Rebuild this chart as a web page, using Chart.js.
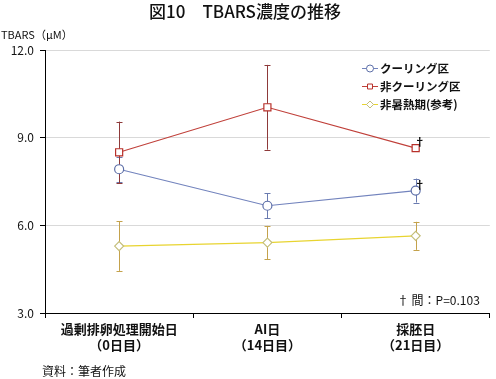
<!DOCTYPE html>
<html><head><meta charset="utf-8">
<script src="https://cdn.jsdelivr.net/npm/chart.js@4/dist/chart.umd.min.js"></script>
<style>html,body{margin:0;padding:0;background:#fff}#w{width:496px;height:379px}</style>
</head><body><div id="w"><canvas id="c"></canvas></div>
<script>
const categories = [["過剰排卵処理開始日","（0日目）"],["AI日","（14日目）"],["採胚日","（21日目）"]];
const seriesNames = ["クーリング区","非クーリング区","非暑熱期(参考)"];
const cooling = [7.92, 6.67, 7.19];
const coolingErr = [0.43, 0.43, 0.41];
const nonCooling = [8.50, 10.04, 8.64];
const nonCoolingErr = [1.05, 1.45, 0];
const nonHeat = [5.29, 5.41, 5.64];
const nonHeatErr = [0.85, 0.57, 0.48];
const yTicks = [3, 6, 9, 12];
const titleText = "図10　TBARS濃度の推移";
const yTitle = "TBARS（μM）";
const noteText = "† 間：P=0.103";
const sourceText = "資料：筆者作成";
const daggerSeries = [0, 1];
const daggerIndex = 2;

const JP = '"Noto Sans CJK JP","Noto Sans",sans-serif';
const styles = [
  {line:'#7283bd', pt:'#5d6fa8', err:'#6a7bb0', ps:'circle', r:4.5},
  {line:'#c0403a', pt:'#b8302a', err:'#8e3a3a', ps:'rect', r:5},
  {line:'#e8d430', pt:'#c4be7a', err:'#c4a24c', ps:'rectRot', r:4.5}
];
const errs = [coolingErr, nonCoolingErr, nonHeatErr];

const errPlugin = {
  id:'err',
  beforeDatasetsDraw(chart){
    const ctx = chart.ctx, y = chart.scales.y;
    chart.data.datasets.forEach((ds,i)=>{
      const meta = chart.getDatasetMeta(i);
      ctx.save(); ctx.strokeStyle = styles[i].err; ctx.lineWidth = 1;
      meta.data.forEach((el,j)=>{
        const e = errs[i][j]; if(!e) return;
        const x = Math.round(el.x)+0.5;
        const t = y.getPixelForValue(ds.data[j]+e), b = y.getPixelForValue(ds.data[j]-e);
        ctx.beginPath(); ctx.moveTo(x,t); ctx.lineTo(x,b);
        ctx.moveTo(x-3,Math.round(t)+0.5); ctx.lineTo(x+3,Math.round(t)+0.5);
        ctx.moveTo(x-3,Math.round(b)+0.5); ctx.lineTo(x+3,Math.round(b)+0.5);
        ctx.stroke();
      });
      ctx.restore();
    });
  },
  afterDraw(chart){
    const ctx = chart.ctx, a = chart.chartArea;
    ctx.save();
    ctx.fillStyle = '#111'; ctx.textBaseline='middle';
    ctx.font = '500 17px '+JP; ctx.textAlign='center';
    ctx.fillText(titleText, 245, 12);
    ctx.font = '11px '+JP; ctx.textAlign='left';
    ctx.fillText(yTitle, 1, 35);
    ctx.font = '12px '+JP;
    ctx.fillText(sourceText, 42, 371);
    ctx.font = '12px '+JP; ctx.textAlign='right';
    ctx.fillText(noteText, a.right-10, a.bottom-13);
    // daggers
    ctx.font = 'bold 11px '+JP; ctx.textAlign='center';
    daggerSeries.forEach(i=>{
      const el = chart.getDatasetMeta(i).data[daggerIndex];
      ctx.fillText('†', el.x+4, el.y-6);
    });
    // legend
    const lx = 362, ly = [68, 86, 104];
    chart.data.datasets.forEach((ds,i)=>{
      const s = styles[i], yy = ly[i];
      ctx.strokeStyle = s.line; ctx.lineWidth = 1;
      ctx.beginPath(); ctx.moveTo(lx, yy+0.5); ctx.lineTo(lx+16, yy+0.5); ctx.stroke();
      ctx.fillStyle='#fff'; ctx.strokeStyle = s.pt;
      Chart.helpers.drawPoint(ctx, {pointStyle:s.ps, radius:3.5, borderWidth:1}, lx+8, yy+0.5);
      ctx.fillStyle='#111'; ctx.font='bold 11.5px '+JP; ctx.textAlign='left';
      ctx.fillText(ds.label, lx+18, yy+1);
    });
    ctx.restore();
  }
};

new Chart(document.getElementById('c'), {
  type:'line',
  data:{
    labels: categories,
    datasets: [cooling, nonCooling, nonHeat].map((d,i)=>({
      label: seriesNames[i], data: d,
      borderColor: styles[i].line, borderWidth: 1.2,
      pointStyle: styles[i].ps, pointRadius: styles[i].r,
      pointBackgroundColor:'#fff', pointBorderColor: styles[i].pt, pointBorderWidth:1.2,
      tension:0, fill:false
    }))
  },
  options:{
    responsive:true, maintainAspectRatio:false, animation:false,
    devicePixelRatio:1,
    layout:{padding:{top:50, right:3, bottom:26, left:0}},
    plugins:{legend:{display:false}, title:{display:false}, tooltip:{enabled:false}},
    scales:{
      x:{
        offset:true,
        grid:{offset:true, drawOnChartArea:false, drawTicks:true, tickLength:5, color:'#000'},
        border:{color:'#000', width:1},
        ticks:{color:'#111', font:{family:JP, size:13, weight:'bold', lineHeight:1.25}, padding:3, maxRotation:0, autoSkip:false},
        afterFit(s){ s.height = 40; }
      },
      y:{
        min:3, max:12,
        afterBuildTicks(s){ s.ticks = yTicks.map(v=>({value:v})); },
        grid:{color:'#d9d9d9', tickColor:'#000', tickLength:5, drawTicks:true},
        border:{color:'#000', width:1},
        ticks:{color:'#111', font:{family:JP, size:12}, padding:6, callback:v=>Number(v).toFixed(1)},
        afterFit(s){ s.width = 45; }
      }
    }
  },
  plugins:[errPlugin]
});
</script></body></html>
